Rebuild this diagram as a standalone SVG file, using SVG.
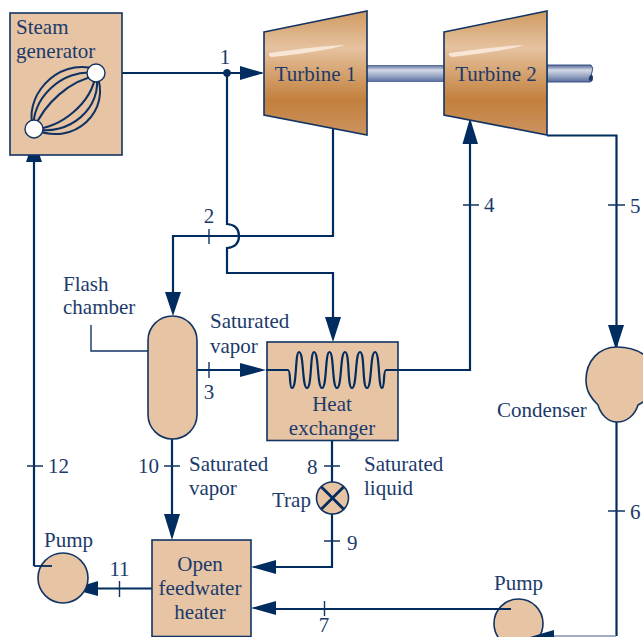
<svg xmlns="http://www.w3.org/2000/svg" width="643" height="637" viewBox="0 0 643 637">
<style>
text{font-family:"Liberation Serif","Times New Roman",serif;font-size:21px;fill:#1b3a6b}
.m{text-anchor:middle}
.l{fill:none;stroke:#002c5f;stroke-width:2.2;stroke-linejoin:miter}
.c{fill:none;stroke:#0f3263;stroke-width:2}
.t{fill:none;stroke:#123463;stroke-width:1.4}
.b{fill:#e6c4a4;stroke:#123463;stroke-width:1.6}
.a{fill:#002c5f}
.tb{fill:url(#tg);stroke:#123463;stroke-width:1.6}
.hl{fill:#f7e6d6}
</style>
<defs>
<linearGradient id="tg" x1="0" y1="0" x2="0" y2="1">
<stop offset="0" stop-color="#cf9a62"/><stop offset="0.3" stop-color="#e6c29f"/><stop offset="0.72" stop-color="#c2803c"/><stop offset="1" stop-color="#cc9361"/>
</linearGradient>
<linearGradient id="sg" x1="0" y1="0" x2="0" y2="1">
<stop offset="0" stop-color="#4f6595"/><stop offset="0.3" stop-color="#d3d9e6"/><stop offset="0.65" stop-color="#98a6c4"/><stop offset="1" stop-color="#56699a"/>
</linearGradient>
</defs>
<g id="shaft">
<rect x="367" y="65" width="78" height="17" fill="url(#sg)"/>
<path d="M547 65H591Q594 68 592 72Q590 76 592 79Q593 81 590 82H547Z" fill="url(#sg)" stroke="#3c5286" stroke-width="1"/>
<path d="M589 77Q592 72 593 77Q593 81 591 81Q588 81 589 77Z" fill="#1c3a68"/>
</g>
<g id="connectors">
<path class="l" d="M104 73H262"/>
<path class="l" d="M227 73V224Q239 225 239 236Q239 247 227 248V273H333V322"/>
<path class="l" d="M333 128V236H173V296"/>
<path class="l" d="M197 370H250"/>
<path class="l" d="M385 370H470V136"/>
<path class="l" d="M547 135.500H616.500V351"/>
<path class="l" d="M616.500 422V636"/>
<path class="l" d="M172 438V518"/>
<path class="l" d="M332 440V483M332 514V567H272"/>
<path class="l" d="M440 609H272"/>
<path class="l" d="M152 588.500H95"/>
<path class="l" d="M34 566V155"/>
<path d="M550 636H616" fill="none" stroke="#7f90b0" stroke-width="1.4"/>
<path class="t" d="M209 229V244M209 362V378M463 205H479M608 205H625M608 511H625M324 466H340M324 541H340M27 466H43M164 466H180M119.500 581V597M324.500 601V616"/>
<path class="t" d="M91 325V351H148"/>
<path class="a" d="M227 69a4 4 0 1 0 .01 0Z"/>
<path class="a" d="M240 66L264 73L240 80Z"/>
<path class="a" d="M165 292H181L173 316Z"/>
<path class="a" d="M325 317H341L333 342Z"/>
<path class="a" d="M240 363L266 370L240 377Z"/>
<path class="a" d="M462.500 144H478L470 118Z"/>
<path class="a" d="M608 325H624L616 350Z"/>
<path class="a" d="M164 514H180L172 540Z"/>
<path class="a" d="M276 560V574L251 567Z"/>
<path class="a" d="M276 601V615L251 608Z"/>
<path class="a" d="M98 581V596L72 589Z"/>
<path class="a" d="M26 162H42L34 139Z"/>
</g>
<g id="steam-generator">
<rect class="b" x="10" y="13" width="112" height="142"/>
<g>
<path class="c" d="M34 129C22 100 55 57 96 69"/><path class="c" d="M34 129C30 100 62 68 96 73"/><path class="c" d="M34 129C44 104 70 80 96 76"/>
<path class="c" d="M34 129C74 148 113 110 96 73"/><path class="c" d="M34 129C68 137 104 108 96 73"/><path class="c" d="M34 129C60 128 92 104 96 73"/>
</g>
<circle cx="96" cy="73" r="9" fill="#fff" stroke="#123463" stroke-width="1.4"/>
<circle cx="34" cy="129" r="9" fill="#fff" stroke="#123463" stroke-width="1.4"/>
<text x="16" y="34">Steam</text><text x="16" y="58">generator</text>
</g>
<g id="turbine-1">
<path class="tb" d="M264 32L367 11V135L264 115Z"/>
<path class="hl" d="M269 53Q320 46 345 45Q320 52 272 57Q268 56 269 53Z"/>
<text class="m" x="315.500" y="81">Turbine 1</text>
</g>
<g id="turbine-2">
<path class="tb" d="M444 32L547 11V135L444 115Z"/>
<path class="hl" d="M449 53Q500 46 525 45Q500 52 452 57Q448 56 449 53Z"/>
<text class="m" x="496" y="81">Turbine 2</text>
</g>
<g id="flash-chamber">
<rect class="b" x="148" y="316" width="49" height="123" rx="24.500"/>
<text x="63" y="291">Flash</text><text x="63" y="314">chamber</text>
</g>
<g id="heat-exchanger">
<rect class="b" x="267" y="342" width="131" height="98.500"/>
<path class="l" d="M266 370H288C291 370 289 388 292 388C297 388 295 352 299 352C304 352 302 388 307 388C312 388 310 352 314 352C319 352 317 388 322 388C327 388 325 352 329.500 352C334 352 332 388 337 388C342 388 340 352 345 352C350 352 347 388 352 388C357 388 355 352 360 352C365 352 362 388 367 388C372 388 370 352 375 352C380 352 378 388 382 388C385 388 383 370 386 370H400"/>
<text class="m" x="332" y="411">Heat</text><text class="m" x="332" y="435">exchanger</text>
</g>
<g id="condenser">
<path class="b" d="M617 347C599 347 586 361 586 380C586 392 592 399 598 405C601 415 608 422 617 422C627 422 635 415 638 405C640 404 643 402 646 400V356C638 350 628 347 617 347Z"/>
<text x="497" y="417">Condenser</text>
</g>
<g id="trap">
<circle cx="332.500" cy="498" r="16" fill="#e6c4a4" stroke="#123463" stroke-width="1.6"/>
<path d="M321.500 487L343.500 509M343.500 487L321.500 509" stroke="#002c5f" stroke-width="2.800"/>
<text x="272" y="507">Trap</text>
</g>
<g id="open-feedwater-heater">
<rect class="b" x="152" y="540" width="99" height="96.500"/>
<text class="m" x="200" y="571">Open</text><text class="m" x="200" y="595">feedwater</text><text class="m" x="200" y="619">heater</text>
</g>
<g id="pump-1">
<circle class="b" cx="63" cy="578" r="25"/>
<path class="l" d="M34 566H52" style="stroke-width:1.800"/>
<text x="44" y="547">Pump</text>
</g>
<g id="pump-2">
<circle class="b" cx="518.500" cy="623.500" r="24.500"/>
<path class="l" d="M440 609H511" style="stroke-width:1.800"/>
<path class="a" d="M554 630V637H530Z"/>
<text x="494" y="590">Pump</text>
</g>
<g id="labels">
<text class="m" x="225" y="64">1</text>
<text class="m" x="209" y="223">2</text>
<text class="m" x="209" y="399">3</text>
<text x="484" y="212">4</text>
<text x="630" y="213">5</text>
<text x="630" y="519">6</text>
<text class="m" x="324" y="632">7</text>
<text x="307" y="474">8</text>
<text x="347" y="550">9</text>
<text x="138" y="473">10</text>
<text class="m" x="119.500" y="576">11</text>
<text x="48" y="473">12</text>
<text x="210" y="328">Saturated</text><text x="210" y="353">vapor</text>
<text x="189" y="471">Saturated</text><text x="189" y="495">vapor</text>
<text x="364" y="471">Saturated</text><text x="364" y="495">liquid</text>
</g>
</svg>
